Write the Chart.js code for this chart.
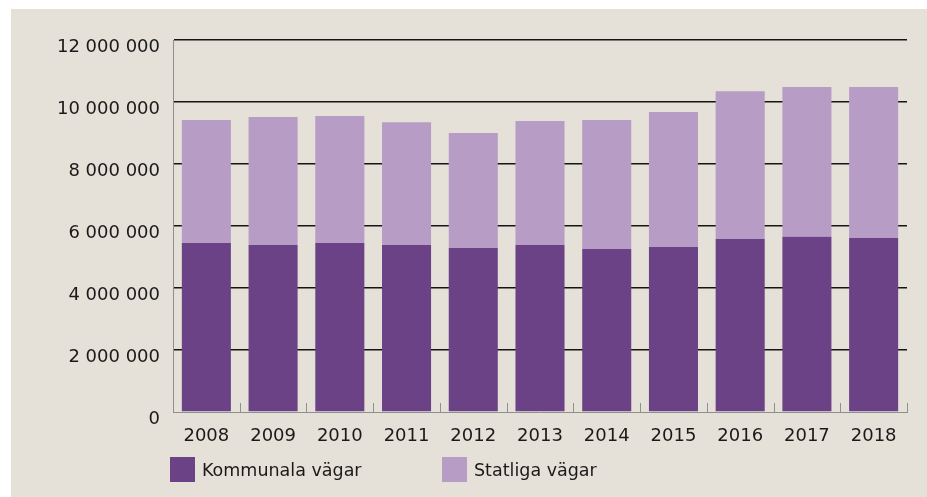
<!DOCTYPE html>
<html>
<head>
<meta charset="utf-8">
<script src="https://cdn.jsdelivr.net/npm/chart.js@4.4.0/dist/chart.umd.min.js"></script>
<style>
html, body { margin: 0; padding: 0; background: #ffffff; }
#wrap { position: absolute; left: 11px; top: 9px; width: 916px; height: 488px; background: #e5e1d8; }
#grafico { position: absolute; left: 0; top: 0; }
.leg { position: absolute; top: 448px; height: 25px; display: flex; align-items: center;
       font: 17.5px "DejaVu Sans", sans-serif; color: #1a1a1a; white-space: nowrap; }
.leg .box { display: inline-block; width: 25px; height: 25px; margin-right: 7px; }
</style>
</head>
<body>
<div id="wrap">
  <canvas id="grafico" width="916" height="488"></canvas>
  <div class="leg" id="leg1" style="left:159px"><span class="box"></span><span class="txt"></span></div>
  <div class="leg" id="leg2" style="left:431px"><span class="box"></span><span class="txt"></span></div>
</div>
<script>
// datos
var anios = ['2008', '2009', '2010', '2011', '2012', '2013', '2014', '2015', '2016', '2017', '2018'];
var kommunala = [5450000, 5390000, 5450000, 5390000, 5290000, 5390000, 5260000, 5320000, 5580000, 5650000, 5610000];
var statliga = [3970000, 4130000, 4100000, 3960000, 3710000, 4000000, 4160000, 4360000, 4770000, 4830000, 4870000];
var series = ['Kommunala vägar', 'Statliga vägar'];
var colores = ['#6b4285', '#b79cc5'];
var yMax = 12000000, yPaso = 2000000;

function formato(v) {
    return String(v).replace(/\B(?=(\d{3})+(?!\d))/g, ' ');
}

// marcas pequeñas hacia arriba en el eje x, entre categorías
var marcasX = {
    id: 'marcasX',
    afterDatasetsDraw: function (chart) {
        var x = chart.scales.x, a = chart.chartArea, c = chart.ctx;
        var mitad = (x.getPixelForValue(1) - x.getPixelForValue(0)) / 2;
        c.save();
        c.strokeStyle = '#8f8f8f';
        c.lineWidth = 1;
        for (var i = 1; i <= anios.length; i++) {
            var px = Math.round(x.getPixelForValue(i) - mitad) + 0.5;
            c.beginPath();
            c.moveTo(px, a.bottom);
            c.lineTo(px, a.bottom - 9);
            c.stroke();
        }
        c.restore();
    }
};

Chart.defaults.font.family = "'DejaVu Sans', sans-serif";
Chart.defaults.font.size = 18;
Chart.defaults.color = '#1a1a1a';

var ctx1 = document.getElementById('grafico').getContext('2d');
window.myBar = new Chart(ctx1, {
    type: 'bar',
    data: {
        labels: anios,
        datasets: [
            { label: series[0], data: kommunala, backgroundColor: colores[0], borderWidth: 0,
              barPercentage: 0.735, categoryPercentage: 1 },
            { label: series[1], data: statliga, backgroundColor: colores[1], borderWidth: 0,
              barPercentage: 0.735, categoryPercentage: 1 }
        ]
    },
    options: {
        responsive: false,
        animation: false,
        layout: { padding: { left: 0, right: 20, top: 31, bottom: 45 } },
        plugins: { legend: { display: false }, tooltip: { enabled: false } },
        scales: {
            x: {
                stacked: true,
                grid: { display: true, drawOnChartArea: false, drawTicks: false },
                border: { display: true, color: '#8f8f8f', width: 1 },
                ticks: { padding: 14, maxRotation: 0 },
                afterFit: function (s) { s.height = 40; }
            },
            y: {
                stacked: true,
                min: 0,
                max: yMax,
                grid: {
                    drawTicks: false,
                    lineWidth: 1.5,
                    color: function (c) { return c.tick && c.tick.value === 0 ? 'rgba(0,0,0,0)' : '#151515'; }
                },
                border: { display: true, color: '#8f8f8f', width: 1 },
                ticks: { stepSize: yPaso, padding: 13, labelOffset: 7, callback: function (v) { return formato(v); } },
                afterFit: function (s) { s.width = 162; }
            }
        }
    },
    plugins: [marcasX]
});

// leyenda
['leg1', 'leg2'].forEach(function (id, i) {
    var el = document.getElementById(id);
    el.querySelector('.box').style.background = colores[i];
    el.querySelector('.txt').textContent = series[i];
});
</script>
</body>
</html>
